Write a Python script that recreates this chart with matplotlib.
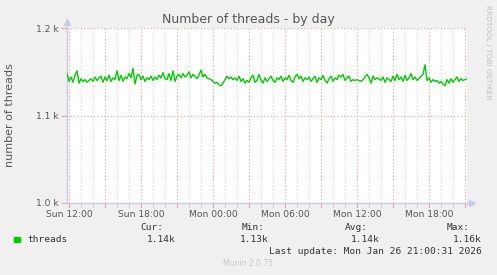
import numpy as np
import matplotlib
matplotlib.use("Agg")
import matplotlib.pyplot as plt
from matplotlib.ticker import MultipleLocator, FixedLocator

# threads sampled every 10 minutes, starting Sun 11:50 (hours since Sun 00:00)
start_hour = 11.0 + 50.0 / 60.0
step_hour = 1.0 / 6.0
threads = [
    1148, 1139, 1144, 1138, 1146, 1151, 1137, 1142, 1139, 1141, 1138, 1140,
    1142, 1139, 1144, 1140, 1143, 1145, 1138, 1144, 1140, 1146, 1139, 1143,
    1141, 1151, 1140, 1146, 1139, 1144, 1142, 1148, 1143, 1154, 1136, 1146,
    1147, 1141, 1145, 1139, 1143, 1141, 1145, 1140, 1144, 1141, 1146, 1143,
    1149, 1142, 1141, 1148, 1140, 1151, 1139, 1145, 1147, 1143, 1148, 1144,
    1146, 1150, 1143, 1147, 1145, 1142, 1146, 1152, 1144, 1147, 1143, 1142,
    1141, 1139, 1137, 1138, 1135, 1134, 1137, 1141, 1145, 1142, 1144, 1141,
    1143, 1140, 1145, 1139, 1142, 1137, 1140, 1138, 1143, 1146, 1138, 1140,
    1147, 1140, 1137, 1143, 1139, 1142, 1145, 1140, 1138, 1143, 1141, 1145,
    1139, 1143, 1141, 1146, 1140, 1138, 1144, 1147, 1142, 1145, 1139, 1143,
    1141, 1144, 1139, 1142, 1145, 1138, 1143, 1141, 1146, 1140, 1137, 1142,
    1145, 1139, 1143, 1141, 1146, 1144, 1147, 1140, 1143, 1145, 1139, 1141,
    1140, 1141, 1140, 1139, 1141, 1144, 1147, 1143, 1137, 1145, 1141, 1143,
    1142, 1140, 1144, 1138, 1143, 1141, 1139, 1145, 1140, 1147, 1141, 1144,
    1139, 1146, 1140, 1143, 1148, 1141, 1144, 1140, 1142, 1145, 1147, 1158,
    1140, 1143, 1138, 1141, 1139, 1140, 1137, 1139, 1136, 1134, 1141, 1137,
    1142, 1138, 1141, 1144, 1139, 1142, 1140, 1141, 1142,
]
tick_hours = [12, 18, 24, 30, 36, 42]
tick_labels = ["Sun 12:00", "Sun 18:00", "Mon 00:00", "Mon 06:00", "Mon 12:00", "Mon 18:00"]
y_ticks = [1000, 1100, 1200]
y_labels = ["1.0 k", "1.1 k", "1.2 k"]
stats_names = ["Cur:", "Min:", "Avg:", "Max:"]
stats_values = ["1.14k", "1.13k", "1.14k", "1.16k"]

W, H = 497, 275
hours = start_hour + step_hour * np.arange(len(threads))
x0 = start_hour
x1 = start_hour + 400 / 12.0

fig = plt.figure(figsize=(W / 100, H / 100), dpi=100, facecolor="#F0F0F0")
ax = fig.add_axes([67 / W, 1 - 203 / H, 400 / W, 175 / H], facecolor="white")

# grid: minor hourly grey, major every 3h red
for h in np.arange(12, 46, 1):
    if h < x0 or h > x1:
        continue
    col = "#F0A0A0" if h % 3 == 0 else "#D4D4D4"
    ax.axvline(h, color=col, lw=0.8, ls=(0, (1, 2)), zorder=1)
    # small tick under the axis
    ax.plot([h, h], [1000, 1000 - 4 * 200 / 175], color=col, lw=0.8, clip_on=False)
for v in [1100, 1200]:
    ax.axhline(v, color="#F0A0A0", lw=0.8, ls=(0, (1, 2)), zorder=1)

ax.plot(hours, threads, color="#00CC00", lw=1.0, zorder=3)

ax.set_xlim(x0, x1)
ax.set_ylim(1000, 1200)
ax.xaxis.set_major_locator(FixedLocator(tick_hours))
ax.set_xticklabels(tick_labels)
ax.yaxis.set_major_locator(FixedLocator(y_ticks))
ax.set_yticklabels(y_labels)
ax.tick_params(axis="x", length=0, labelcolor="#555555", labelsize=6.6, pad=5)
ax.tick_params(axis="y", length=4, width=0.8, color="#F0A0A0", labelcolor="#555555",
               labelsize=6.6, pad=2)

for s in ["top", "right"]:
    ax.spines[s].set_visible(False)
for s in ["left", "bottom"]:
    ax.spines[s].set_color("#C8C8F0")
    ax.spines[s].set_linewidth(1.0)

# axis arrows
ax.plot([x1, x1 + 5 / 12.0], [1000, 1000], color="#C8C8F0", lw=1.0, clip_on=False)
ax.plot([x1 + 5 / 12.0], [1000], marker=">", color="#C8C8F0", ms=5, clip_on=False)
ax.plot([x0, x0], [1200, 1200 + 6 * 200 / 175], color="#C8C8F0", lw=1.0, clip_on=False)
ax.plot([x0], [1200 + 6 * 200 / 175], marker="^", color="#C8C8F0", ms=5, clip_on=False)

def px(x, y):
    return x / W, 1 - y / H

fig.text(*px(248.5, 19), "Number of threads - by day", ha="center", va="center",
         fontsize=9, color="#555555")
fig.text(*px(10, 115), "number of threads", ha="center", va="center", rotation=90,
         fontsize=8, color="#555555")
fig.text(*px(488, 5), "RRDTOOL / TOBI OETIKER", ha="center", va="top", rotation=270,
         fontsize=5.3, color="#C0C0C0")

mono = "DejaVu Sans Mono"
fig.patches.append(plt.Rectangle(px(14, 242), 6 / W, 5 / H, transform=fig.transFigure,
                                 color="#00CC00"))
fig.text(*px(27, 239), "threads", ha="left", va="center", family=mono, fontsize=6.8,
         color="#333333")
name_right = [163, 265, 368, 470]
value_right = [176, 269, 380, 482]
for name, val, nx, vx in zip(stats_names, stats_values, name_right, value_right):
    fig.text(*px(nx, 227), name, ha="right", va="center", family=mono, fontsize=6.8,
             color="#333333")
    fig.text(*px(vx, 239), val, ha="right", va="center", family=mono, fontsize=6.8,
             color="#333333")
fig.text(*px(482, 251), "Last update: Mon Jan 26 21:00:31 2026", ha="right", va="center",
         family=mono, fontsize=6.8, color="#333333")
fig.text(*px(248, 264), "Munin 2.0.75", ha="center", va="center", fontsize=5.5,
         color="#C8C8C8")

fig.savefig("out.png", dpi=100, facecolor=fig.get_facecolor())
